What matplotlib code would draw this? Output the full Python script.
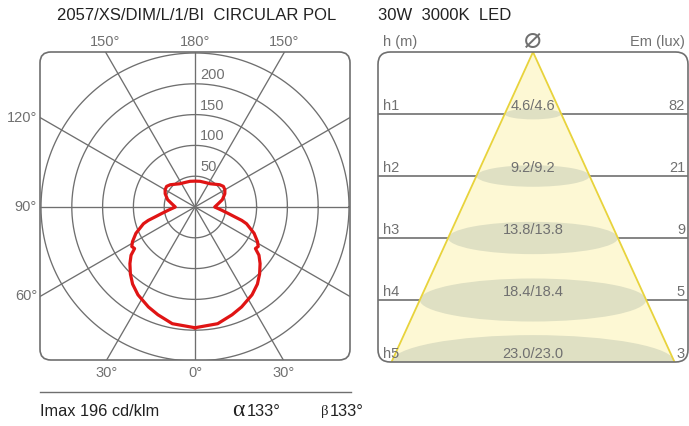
import numpy as np
import matplotlib

matplotlib.use("Agg")
import matplotlib.pyplot as plt
from matplotlib.patches import FancyBboxPatch, Ellipse, Polygon

plt.rcParams["font.family"] = ["Liberation Sans", "DejaVu Sans"]

# ---- data -----------------------------------------------------------------
# luminous intensity distribution (cd/klm), gamma measured from nadir
gamma_deg = [0, 11, 19, 25, 33, 39, 44, 49, 53, 55.5, 58, 61, 66, 72, 74,
             76, 79, 83, 90, 98, 105, 114, 120, 126, 132, 139, 147, 158,
             169, 180]
intensity = [196, 193, 185, 179, 170, 161, 151, 140, 130, 119, 121, 116,
             105, 88, 79, 67, 55, 44, 32, 38, 46, 53, 56, 57, 54, 49, 45,
             43, 42.5, 42]
ring_values = [50, 100, 150, 200, 250]
ring_labels = [50, 100, 150, 200]
spoke_angles = list(range(0, 360, 30))
edge_angle_labels = [150, 180, -150, 120, 90, 60, 30, 0, -30]

# illuminance cone
levels = ["h1", "h2", "h3", "h4", "h5"]
diameters = [4.6, 9.2, 13.8, 18.4, 23.0]
illuminance = [82, 21, 9, 5, 3]

title_left = "2057/XS/DIM/L/1/BI  CIRCULAR POL"
title_right = "30W  3000K  LED"
imax_text = "Imax 196 cd/klm"
alpha_deg = 133
beta_deg = 133

# ---- style ----------------------------------------------------------------
W, H = 689, 426
grid_color = "#6f6f6f"
label_color = "#707070"
text_color = "#222222"
curve_color = "#e01414"
cone_fill = "#fdf8d4"
cone_edge = "#e8d33c"
spot_fill = "#dfe0c3"


def fx(x):
    return x / W


def fy(y):
    return 1 - y / H


fig = plt.figure(figsize=(W / 100, H / 100), dpi=100)

# ---- polar panel ----------------------------------------------------------
box_l, box_t, box_r, box_b = 40, 52, 350, 360
cx, cy = 195, 207
px_per_cd = 0.616

ax = fig.add_axes([fx(box_l), fy(box_b), (box_r - box_l) / W, (box_b - box_t) / H])
ax.set_xlim((box_l - cx) / px_per_cd, (box_r - cx) / px_per_cd)
ax.set_ylim((cy - box_b) / px_per_cd, (cy - box_t) / px_per_cd)
ax.axis("off")

box = FancyBboxPatch((0, 0), 1, 1, boxstyle="round,pad=0,rounding_size=0.035",
                     transform=ax.transAxes, facecolor="none",
                     edgecolor=grid_color, linewidth=1.2, clip_on=False, zorder=3)
ax.add_patch(box)

t = np.linspace(0, 2 * np.pi, 400)
for r in ring_values:
    (ring,) = ax.plot(r * np.cos(t), r * np.sin(t), color=grid_color, lw=0.95, zorder=1)
    ring.set_clip_path(box)

for a in spoke_angles:
    rad = np.deg2rad(a)
    (sp,) = ax.plot([0, 400 * np.sin(rad)], [0, -400 * np.cos(rad)],
                    color=grid_color, lw=0.95, zorder=1)
    sp.set_clip_path(box)

for r in ring_labels:
    ax.annotate(str(r), xy=(0, r), xytext=(5, 9), textcoords="offset pixels",
                ha="left", va="center", fontsize=10.5, color=label_color)

half_w = (box_r - cx) / px_per_cd
half_top = (cy - box_t) / px_per_cd
half_bot = (box_b - cy) / px_per_cd
for a in edge_angle_labels:
    rad = np.deg2rad(a)
    dx, dy = -np.sin(rad), -np.cos(rad)
    # where the spoke meets the frame
    candidates = []
    if abs(dx) > 1e-9:
        candidates.append(half_w / abs(dx))
    if dy > 1e-9:
        candidates.append(half_top / dy)
    if dy < -1e-9:
        candidates.append(half_bot / -dy)
    s = min(candidates)
    ex, ey = dx * s, dy * s
    label = f"{abs(a)}°"
    if abs(ex) >= half_w - 1e-6:
        ax.annotate(label, xy=(ex, ey), xytext=(-3, 0), textcoords="offset pixels",
                    ha="right", va="center", fontsize=10.5, color=label_color)
    elif ey > 0:
        ax.annotate(label, xy=(ex, ey), xytext=(0, 10), textcoords="offset pixels",
                    ha="center", va="center", fontsize=10.5, color=label_color)
    else:
        ax.annotate(label, xy=(ex, ey), xytext=(0, -13), textcoords="offset pixels",
                    ha="center", va="center", fontsize=10.5, color=label_color)

g = np.deg2rad(np.array(gamma_deg))
iv = np.array(intensity)
gam_full = np.concatenate([g, 2 * np.pi - g[::-1][1:]])
i_full = np.concatenate([iv, iv[::-1][1:]])
ax.plot(i_full * np.sin(gam_full), -i_full * np.cos(gam_full),
        color=curve_color, lw=2.3, solid_joinstyle="round", zorder=4)

fig.text(fx(57), fy(16), title_left, ha="left", va="center", fontsize=12,
         color=text_color)

fig.add_artist(plt.Line2D([fx(40), fx(351)], [fy(392), fy(392)],
                          color=grid_color, lw=1.0))
fig.text(fx(40), fy(412), imax_text, ha="left", va="center", fontsize=11.8,
         color=text_color)
fig.text(fx(232), fy(410), "α", ha="left", va="center", fontsize=17,
         family=["Liberation Serif", "DejaVu Serif"], color=text_color)
fig.text(fx(247), fy(412), f"{alpha_deg}°", ha="left", va="center",
         fontsize=11.8, color=text_color)
fig.text(fx(321), fy(412), "β", ha="left", va="center", fontsize=10.5,
         family=["Liberation Serif", "DejaVu Serif"], color=text_color)
fig.text(fx(330), fy(412), f"{beta_deg}°", ha="left", va="center",
         fontsize=11.8, color=text_color)

# ---- cone panel -----------------------------------------------------------
rb_l, rb_t, rb_r, rb_b = 378, 52, 688, 362
cone_half_px = 141.5
n = len(levels)
half_base = diameters[-1] / 2
x_lim = (rb_r - rb_l) / 2 / cone_half_px * half_base
px_per_m = cone_half_px / half_base
px_per_level = (rb_b - rb_t) / n

bx = fig.add_axes([fx(rb_l), fy(rb_b), (rb_r - rb_l) / W, (rb_b - rb_t) / H])
bx.set_xlim(-x_lim, x_lim)
bx.set_ylim(n, 0)
bx.axis("off")

rbox = FancyBboxPatch((0, 0), 1, 1, boxstyle="round,pad=0,rounding_size=0.04",
                      transform=bx.transAxes, facecolor="none",
                      edgecolor=grid_color, linewidth=1.2, clip_on=False, zorder=6)
bx.add_patch(rbox)

for k in range(1, n):
    (ln,) = bx.plot([-x_lim, x_lim], [k, k], color=grid_color, lw=1.2, zorder=1)
    ln.set_clip_path(rbox)

cone = Polygon([(0, 0), (-half_base, n), (half_base, n)], closed=True,
               facecolor=cone_fill, edgecolor="none", zorder=2)
bx.add_patch(cone)
cone.set_clip_path(rbox)

for k, d in enumerate(diameters, start=1):
    e = Ellipse((0, k), width=d, height=d * 0.19 * px_per_m / px_per_level,
                facecolor=spot_fill, edgecolor="none", zorder=3)
    bx.add_patch(e)
    e.set_clip_path(rbox)

bx.plot([-half_base, 0, half_base], [n, 0, n], color=cone_edge, lw=1.3, zorder=4)

for k, (lab, d, em) in enumerate(zip(levels, diameters, illuminance), start=1):
    bx.annotate(lab, xy=(-x_lim, k), xytext=(5, 8), textcoords="offset pixels",
                ha="left", va="center", fontsize=10.5, color=label_color, zorder=7)
    bx.annotate(f"{d:.1f}/{d:.1f}", xy=(0, k), xytext=(0, 8),
                textcoords="offset pixels", ha="center", va="center",
                fontsize=10.5, color=label_color, zorder=7)
    bx.annotate(str(em), xy=(x_lim, k), xytext=(-3, 8), textcoords="offset pixels",
                ha="right", va="center", fontsize=10.5, color=label_color, zorder=7)

bx.annotate("h (m)", xy=(-x_lim, 0), xytext=(5, 10), textcoords="offset pixels",
            ha="left", va="center", fontsize=10.5, color=label_color)
bx.annotate("⌀", xy=(0, 0), xytext=(0, 12), textcoords="offset pixels",
            ha="center", va="center", fontsize=21, color=label_color,
            family=["DejaVu Sans"])
bx.annotate("Em (lux)", xy=(x_lim, 0), xytext=(-3, 10), textcoords="offset pixels",
            ha="right", va="center", fontsize=10.5, color=label_color)

fig.text(fx(378), fy(15), title_right, ha="left", va="center", fontsize=12,
         color=text_color)

fig.savefig("out.png", dpi=100)
